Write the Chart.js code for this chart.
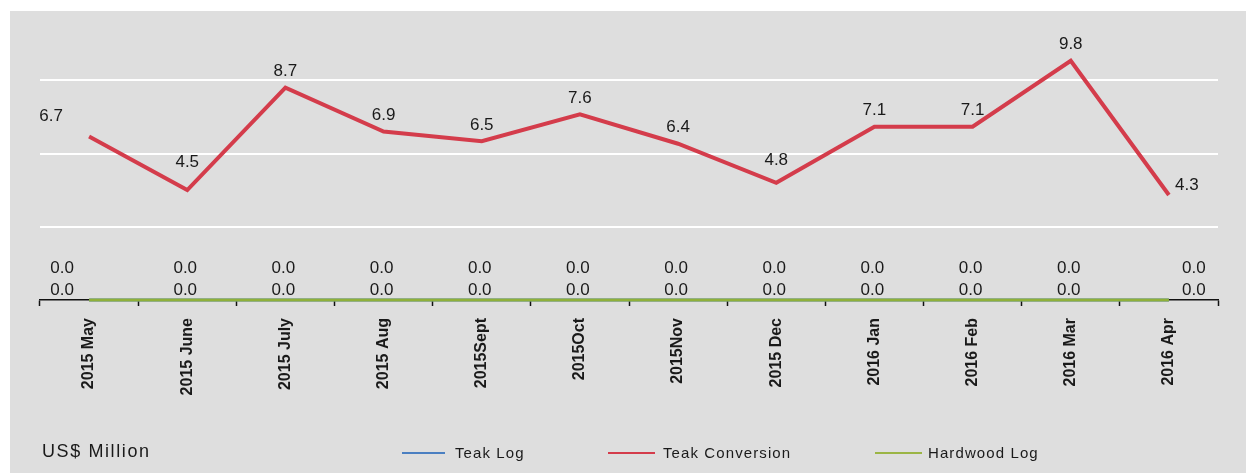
<!DOCTYPE html>
<html>
<head>
<meta charset="utf-8">
<script src="https://cdn.jsdelivr.net/npm/chart.js@4"></script>
<style>
  html, body { margin: 0; padding: 0; background: #fff; }
  #wrap { position: relative; width: 1246px; height: 473px; }
  .lbl { position: absolute; font-family: "Liberation Sans", Arial, sans-serif; color: #1a1a1a; white-space: nowrap; }
  .unit { left: 42px; top: 441px; font-size: 18px; letter-spacing: 1.6px; }
  .leg { top: 444px; font-size: 15px; letter-spacing: 1.1px; }
  .swatch { position: absolute; top: 452px; height: 2px; }
</style>
</head>
<body>
<div id="wrap">
  <canvas id="chart" width="1246" height="473"></canvas>
  <div class="lbl unit">US$ Million</div>
  <div class="swatch" style="left:402px;width:43px;background:#4a7fc1"></div>
  <div class="lbl leg" style="left:455px">Teak Log</div>
  <div class="swatch" style="left:608px;width:47px;background:#d43c4b"></div>
  <div class="lbl leg" style="left:663px">Teak Conversion</div>
  <div class="swatch" style="left:875px;width:47px;background:#9bb545"></div>
  <div class="lbl leg" style="left:928px">Hardwood Log</div>
</div>
<script>
// months on the x axis
const months = ['2015 May', '2015 June', '2015 July', '2015 Aug', '2015Sept', '2015Oct',
  '2015Nov', '2015 Dec', '2016 Jan', '2016 Feb', '2016 Mar', '2016 Apr'];

// US$ million per month
const teakLog = [0, 0, 0, 0, 0, 0, 0, 0, 0, 0, 0, 0];
const teakConversion = [6.7, 4.5, 8.7, 6.9, 6.5, 7.6, 6.4, 4.8, 7.1, 7.1, 9.8, 4.3];
const hardwoodLog = [0, 0, 0, 0, 0, 0, 0, 0, 0, 0, 0, 0];

const yTicks = [0, 3, 6, 9, 12];

const FONT = '"Liberation Sans", Arial, sans-serif';

// grey panel behind everything
const panelBg = {
  id: 'panelBg',
  beforeDraw(chart) {
    const c = chart.ctx;
    c.save();
    c.fillStyle = '#dedede';
    c.fillRect(10, 11, chart.width - 10, chart.height - 11);
    c.restore();
  }
};

// value labels on the points
const valueLabels = {
  id: 'valueLabels',
  afterDatasetsDraw(chart) {
    const c = chart.ctx;
    c.save();
    c.font = '17px ' + FONT;
    c.fillStyle = '#1a1a1a';
    c.textAlign = 'center';
    c.textBaseline = 'middle';
    const last = teakConversion.length - 1;
    chart.getDatasetMeta(1).data.forEach((pt, i) => {
      let dx = 0, dy = -16;
      if (i === 0) { dx = -38; dy = -20; }
      if (i === 1) dy = -28;
      if (i === 7) dy = -22;
      if (i === last) { dx = 18; dy = -10; }
      c.fillText(teakConversion[i].toFixed(1), pt.x + dx, pt.y + dy);
    });
    // the two zero series
    const zdx = i => (i === 0 ? -27 : i === last ? 25 : -2);
    chart.getDatasetMeta(0).data.forEach((pt, i) => {
      c.fillText(teakLog[i].toFixed(1), pt.x + zdx(i), pt.y - 32);
    });
    chart.getDatasetMeta(2).data.forEach((pt, i) => {
      c.fillText(hardwoodLog[i].toFixed(1), pt.x + zdx(i), pt.y - 10);
    });
    c.restore();
  }
};

new Chart(document.getElementById('chart'), {
  type: 'line',
  data: {
    labels: months,
    datasets: [
      { label: 'Teak Log', data: teakLog, borderColor: '#4a7fc1', borderWidth: 3, order: 3, clip: false },
      { label: 'Teak Conversion', data: teakConversion, borderColor: '#d43c4b', borderWidth: 4, order: 1 },
      { label: 'Hardwood Log', data: hardwoodLog, borderColor: '#8fb03a', borderWidth: 3, order: 2, clip: false }
    ]
  },
  options: {
    responsive: false,
    animation: false,
    layout: { padding: { left: 40, right: 28, top: 7, bottom: 0 } },
    elements: { point: { radius: 0 }, line: { tension: 0 } },
    plugins: { legend: { display: false }, tooltip: { enabled: false } },
    scales: {
      x: {
        offset: true,
        grid: { offset: true, drawOnChartArea: false, tickLength: 6, color: '#111', tickWidth: 1.5 },
        border: { color: '#111', width: 1.5 },
        ticks: {
          autoSkip: false, minRotation: 90, maxRotation: 90, padding: 12,
          color: '#1a1a1a',
          font: { family: FONT, size: 16, weight: 'bold' }
        },
        afterFit(scale) { scale.height = 173; }
      },
      y: {
        min: 0, max: 12,
        afterBuildTicks(scale) { scale.ticks = yTicks.map(v => ({ value: v })); },
        ticks: { display: false },
        border: { display: false },
        grid: {
          drawTicks: false, lineWidth: 2,
          color: ctx => (ctx.tick && ctx.tick.value > 0 && ctx.tick.value < 12) ? '#ffffff' : 'rgba(0,0,0,0)'
        },
        afterFit(scale) { scale.width = 0; }
      }
    }
  },
  plugins: [panelBg, valueLabels]
});
</script>
</body>
</html>
